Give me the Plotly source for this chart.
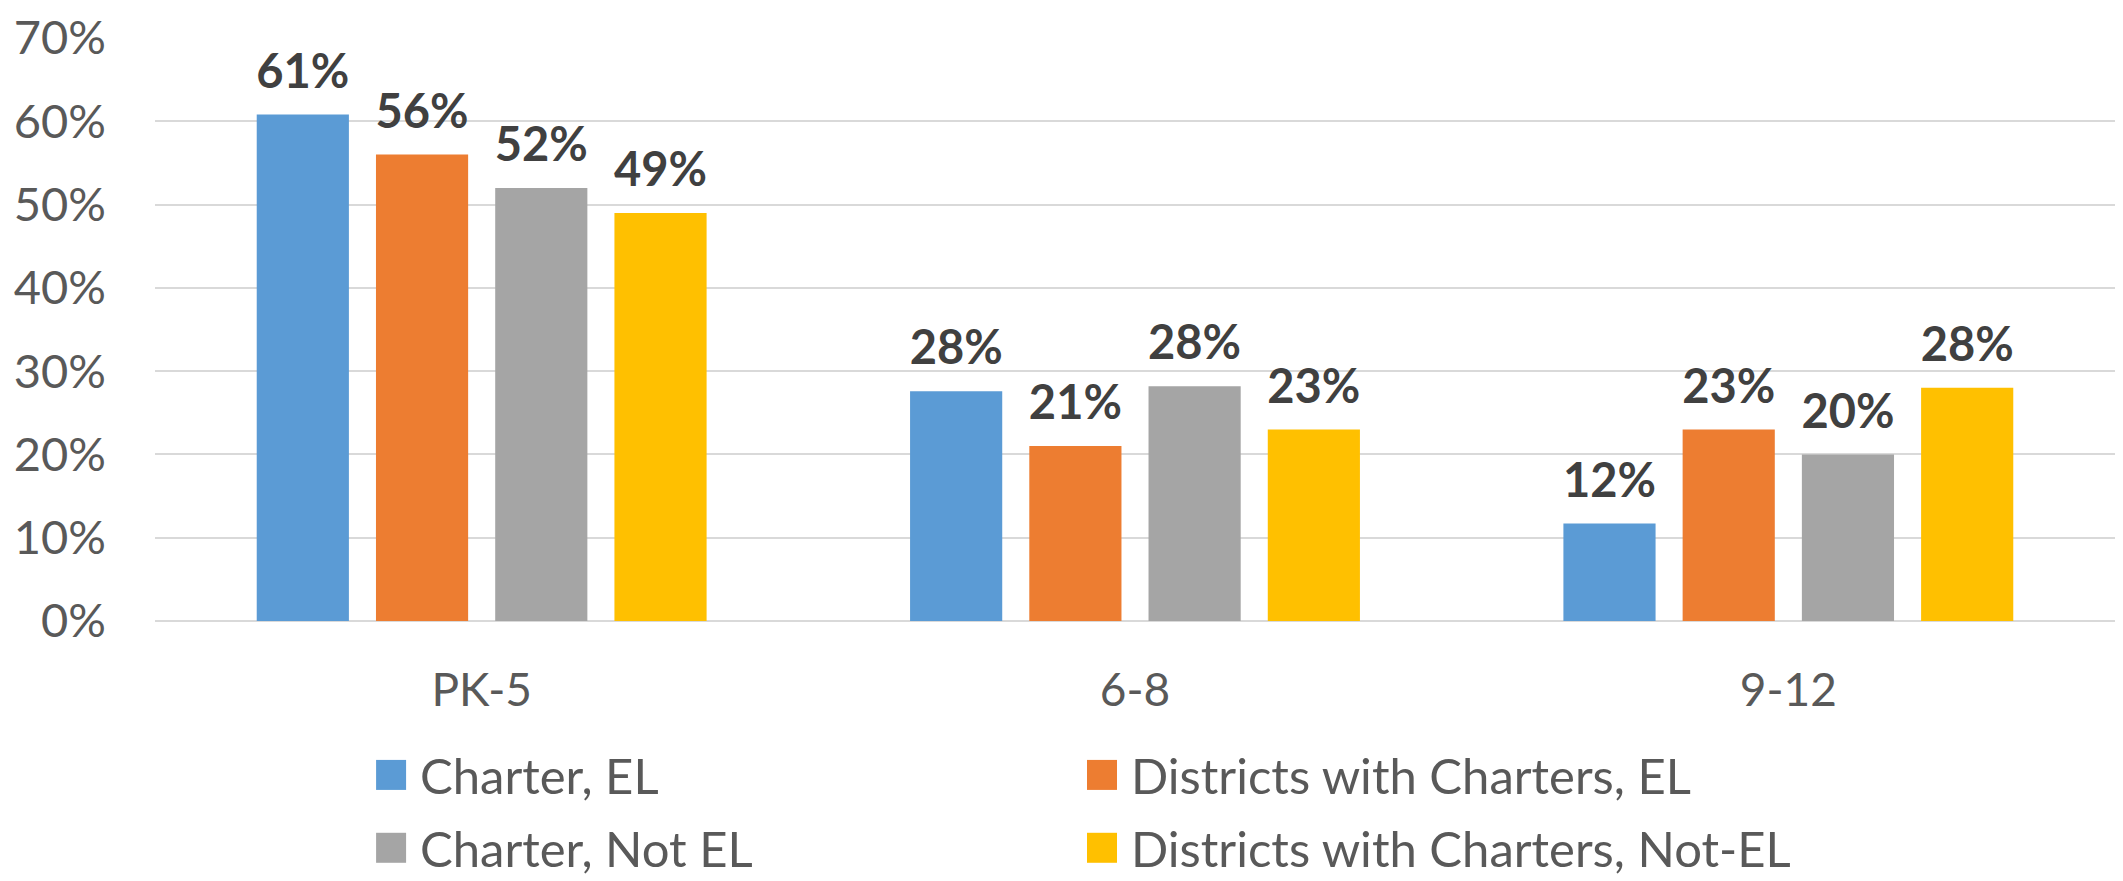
import plotly.graph_objects as go

# Grade bands and series shares
grades = ["PK-5", "6-8", "9-12"]
series_names = [
    "Charter, EL",
    "Districts with Charters, EL",
    "Charter, Not EL",
    "Districts with Charters, Not-EL",
]
charter_el = [0.608, 0.276, 0.117]
district_el = [0.560, 0.210, 0.230]
charter_not_el = [0.520, 0.282, 0.200]
district_not_el = [0.490, 0.230, 0.280]
series_values = [charter_el, district_el, charter_not_el, district_not_el]

y_ticks = [0, 0.1, 0.2, 0.3, 0.4, 0.5, 0.6, 0.7]
y_tick_labels = ["0%", "10%", "20%", "30%", "40%", "50%", "60%", "70%"]

colors = ["#5B9BD5", "#ED7D31", "#A5A5A5", "#FFC000"]
FONT = "Lato, Open Sans, sans-serif"
AXIS_GREY = "#595959"
LABEL_PAD = 0.0165  # empty space between a bar top and its value label (axis units)

fig = go.Figure()
for i, (name, vals, col) in enumerate(zip(series_names, series_values, colors)):
    grp = f"g{i}"
    fig.add_trace(go.Bar(
        x=grades, y=vals, name=name, offsetgroup=grp,
        marker=dict(color=col, line=dict(width=0)),
        showlegend=False,
    ))
    # transparent spacer sitting on each bar, carrying the value label
    fig.add_trace(go.Bar(
        x=grades, y=[LABEL_PAD] * len(vals), base=vals, offsetgroup=grp,
        customdata=vals,
        marker=dict(color="rgba(0,0,0,0)", line=dict(width=0)),
        texttemplate="%{customdata:.0%}",
        textposition="outside", constraintext="none", cliponaxis=False,
        textangle=0,
        textfont=dict(family=FONT, size=47, color="#404040", weight="bold"),
        outsidetextfont=dict(family=FONT, size=47, color="#404040", weight="bold"),
        hoverinfo="skip", showlegend=False,
    ))

# Two-column legend below the axis
legend_pos = [(0.1128, -0.264), (0.4755, -0.264), (0.1128, -0.389), (0.4755, -0.389)]
for (lx, ly), name, col in zip(legend_pos, series_names, colors):
    fig.add_shape(type="rect", xref="paper", yref="paper",
                  xsizemode="pixel", ysizemode="pixel",
                  xanchor=lx, yanchor=ly, x0=0, x1=30, y0=-15, y1=15,
                  fillcolor=col, line=dict(width=0))
    fig.add_annotation(xref="paper", yref="paper", x=lx, y=ly, xshift=42,
                       text=name, showarrow=False, xanchor="left", yanchor="middle",
                       font=dict(family=FONT, size=49, color=AXIS_GREY))

fig.update_layout(
    width=2123, height=881,
    margin=dict(l=155, r=8, t=30, b=260),
    paper_bgcolor="white", plot_bgcolor="white",
    barmode="group", bargap=0.27, bargroupgap=0.227,
    font=dict(family=FONT, color=AXIS_GREY),
)
fig.update_yaxes(
    range=[0, 0.7], tickvals=y_ticks, ticktext=y_tick_labels,
    showgrid=True, gridcolor="#D9D9D9", gridwidth=2,
    zeroline=True, zerolinecolor="#D9D9D9", zerolinewidth=2,
    showline=False, ticks="", ticklabelstandoff=48,
    tickfont=dict(family=FONT, size=47, color=AXIS_GREY),
)
fig.update_xaxes(
    showline=False, ticks="", showgrid=False, ticklabelstandoff=38,
    tickfont=dict(family=FONT, size=46, color=AXIS_GREY),
)

fig.write_html("out.html")
